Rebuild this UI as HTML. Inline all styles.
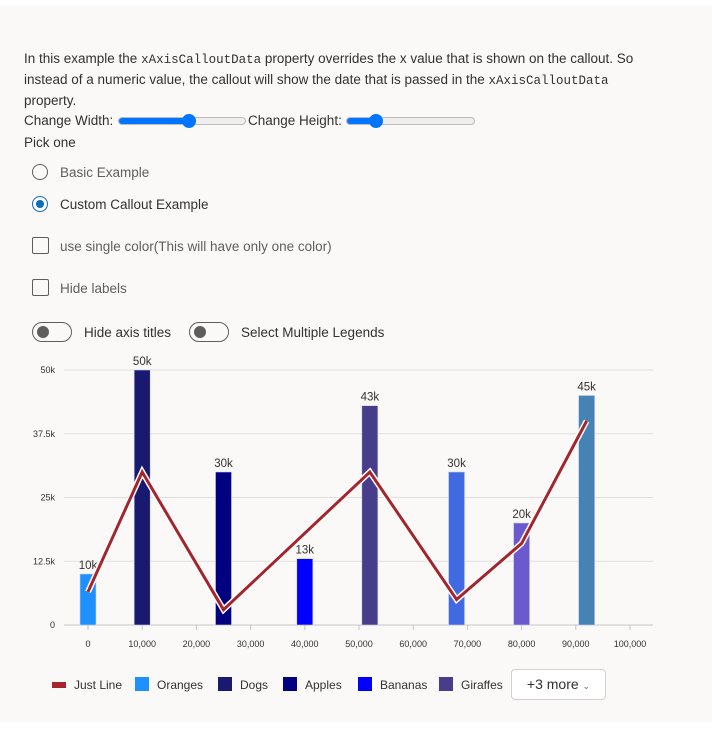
<!DOCTYPE html>
<html><head><meta charset="utf-8">
<style>
body{margin:0;width:712px;height:749px;background:#fff;font-family:"Liberation Sans",sans-serif;color:#323130;overflow:hidden;position:relative}
.panel{position:absolute;left:0;top:5px;width:712px;height:717px;background:#faf9f8}
.t{position:absolute;font-size:13.5px;white-space:nowrap}
code{font-family:"Liberation Mono",monospace;font-size:12.5px}
.radio{position:absolute;width:14px;height:14px;border:1px solid #605e5c;border-radius:50%}
.cb{position:absolute;width:15px;height:15px;border:1px solid #605e5c;border-radius:2px}
.tog{position:absolute;width:38px;height:18px;border:1px solid #605e5c;border-radius:10px}
.tog::after{content:"";position:absolute;left:4px;top:3px;width:12px;height:12px;border-radius:50%;background:#605e5c}
.slider{position:absolute;height:6px;border:1px solid #bbb;border-radius:4px;background:#eee}
.fill{position:absolute;left:0;top:0;height:6px;background:#0075ff;border-radius:4px}
.thumb{position:absolute;top:-4px;width:14px;height:14px;border-radius:50%;background:#0075ff}
.lg{position:absolute;font-size:12px;top:678px}
.sw{position:absolute;width:14px;height:14px;top:677px}
</style></head><body>
<div class="panel"></div>
<div class="t" style="left:24px;top:51px">In this example the <code>xAxisCalloutData</code> property overrides the x value that is shown on the callout. So</div>
<div class="t" style="left:24px;top:72px">instead of a numeric value, the callout will show the date that is passed in the <code>xAxisCalloutData</code></div>
<div class="t" style="left:24px;top:93px">property.</div>
<div class="t" style="left:24px;top:113px">Change Width:</div>
<div class="slider" style="left:118px;top:117px;width:126px"><div class="fill" style="width:70px"></div><div class="thumb" style="left:63px"></div></div>
<div class="t" style="left:248px;top:113px">Change Height:</div>
<div class="slider" style="left:346px;top:117px;width:127px"><div class="fill" style="width:30px"></div><div class="thumb" style="left:22px"></div></div>
<div class="t" style="left:24px;top:135px">Pick one</div>
<div class="radio" style="left:32px;top:164px"></div>
<div class="t" style="left:60px;top:165px;color:#605e5c">Basic Example</div>
<div class="radio" style="left:32px;top:196px;border-color:#0f6cbd"><div style="position:absolute;left:3px;top:3px;width:8px;height:8px;border-radius:50%;background:#0f6cbd"></div></div>
<div class="t" style="left:60px;top:197px">Custom Callout Example</div>
<div class="cb" style="left:32px;top:237px"></div>
<div class="t" style="left:60px;top:239px;color:#605e5c">use single color(This will have only one color)</div>
<div class="cb" style="left:32px;top:279px"></div>
<div class="t" style="left:60px;top:281px;color:#605e5c">Hide labels</div>
<div class="tog" style="left:32px;top:322px"></div>
<div class="t" style="left:84px;top:325px">Hide axis titles</div>
<div class="tog" style="left:189px;top:322px"></div>
<div class="t" style="left:241px;top:325px">Select Multiple Legends</div>

<svg id="chart" style="position:absolute;left:0;top:0" width="712" height="660"></svg>

<div style="position:absolute;left:52px;top:682px;width:14px;height:6px;background:#a4262c"></div>
<div class="lg" style="left:74px">Just Line</div>
<div class="sw" style="left:135px;background:#1e90ff"></div>
<div class="lg" style="left:157px">Oranges</div>
<div class="sw" style="left:218px;background:#191970"></div>
<div class="lg" style="left:240px">Dogs</div>
<div class="sw" style="left:283px;background:#000080"></div>
<div class="lg" style="left:305px">Apples</div>
<div class="sw" style="left:358px;background:#0000ff"></div>
<div class="lg" style="left:380px">Bananas</div>
<div class="sw" style="left:439px;background:#483d8b"></div>
<div class="lg" style="left:461px">Giraffes</div>
<div style="position:absolute;left:511px;top:669px;width:93px;height:29px;border:1px solid #d1d1d1;border-radius:4px;background:#fff;font-size:14px;line-height:29px;text-align:center">+3 more <span style="font-size:9px;color:#666">&#8964;</span></div>

<script>
const xTicks=[0,10000,20000,30000,40000,50000,60000,70000,80000,90000,100000];
const yTicks=[0,12500,25000,37500,50000];
const yTickLabels=['0','12.5k','25k','37.5k','50k'];
const barX=[0,10000,25000,40000,52000,68000,80000,92000];
const barY=[10000,50000,30000,13000,43000,30000,20000,45000];
const barLabels=['10k','50k','30k','13k','43k','30k','20k','45k'];
const barColors=['#1e90ff','#191970','#000080','#0000ff','#483d8b','#4169e1','#6a5acd','#4682b4'];
const lineX=[0,10000,25000,52000,68000,80000,92000];
const lineY=[6500,30000,3000,30000,5000,16000,40000];
const NS='http://www.w3.org/2000/svg';
const svg=document.getElementById('chart');
const sx=v=>88+v/10000*54.2;
const sy=v=>625-v/50000*255;
function mk(t,a){const e=document.createElementNS(NS,t);for(const k in a)e.setAttribute(k,a[k]);svg.appendChild(e);return e;}
yTicks.forEach((v,i)=>{
 const g=mk('line',{x1:64,x2:653,y1:sy(v),y2:sy(v),stroke:v===0?'#c8c6c4':'#e1dfdd','stroke-width':1});
 
 
 const t=mk('text',{x:55,y:sy(v)+3,'text-anchor':'end','font-size':9,fill:'#323130','font-family':'Liberation Sans'});
 t.textContent=yTickLabels[i];
 
 
});
xTicks.forEach(v=>{
 const l=mk('line',{x1:sx(v),x2:sx(v),y1:625,y2:630,stroke:'#c8c6c4'});
 
 
 const t=mk('text',{x:sx(v),y:647,'text-anchor':'middle','font-size':9,fill:'#323130','font-family':'Liberation Sans'});
 t.textContent=v.toLocaleString('en-US');
 
 
});
barX.forEach((v,i)=>{
 const r=mk('rect',{x:sx(v)-8,y:sy(barY[i]),width:16,height:625-sy(barY[i]),fill:barColors[i],stroke:'#c7d0f0','stroke-width':0.6});
 
 
 const t=mk('text',{x:sx(v),y:sy(barY[i])-5,'text-anchor':'middle','font-size':11.5,fill:'#323130','font-family':'Liberation Sans'});
 t.textContent=barLabels[i];
 
 
});
const pts=lineX.map((v,i)=>sx(v)+','+sy(lineY[i])).join(' ');
const o=mk('polyline',{points:pts,fill:'none',stroke:'#fff','stroke-width':6});


const p=mk('polyline',{points:pts,fill:'none',stroke:'#a4262c','stroke-width':3});


</script>
</body></html>
